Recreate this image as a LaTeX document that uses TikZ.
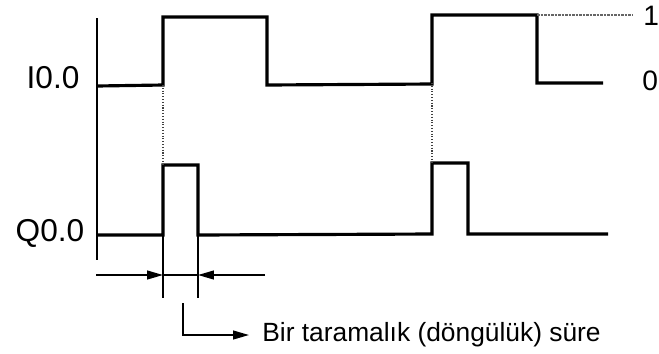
\documentclass[tikz,border=0pt]{standalone}
\usepackage{fontspec}
\setmainfont{Liberation Sans}
\usetikzlibrary{arrows.meta}
\begin{document}
\begin{tikzpicture}[x=0.02cm,y=-0.02cm,
  signal/.style={line width=1.8pt, line join=miter},
  axis/.style={line width=1.1pt},
  guide/.style={line width=0.6pt, densely dotted, black!75},
  refline/.style={line width=0.6pt, dash pattern=on 1.5pt off 0.5pt, black!60},
  tick/.style={line width=1.1pt},
  dimarrow/.style={line width=0.9pt, -{Triangle[length=9pt,width=5pt]}},
  lbl/.style={font=\fontsize{18}{18}\selectfont, inner sep=0pt},
  lvl/.style={font=\fontsize{16}{16}\selectfont, inner sep=0pt, anchor=west},
  note/.style={font=\fontsize{15}{15}\selectfont, inner sep=0pt, anchor=west}
]
\useasboundingbox (0,0) rectangle (659,353);

% time axis shared by both traces
\draw[axis] (97,18) -- (97,260);

% signal names
\node[lbl] (in) at (53,78) {I0.0};
\node[lbl] (out) at (50,233) {Q0.0};

% input I0.0
\coordinate (i1) at (163,85);
\coordinate (i2) at (432,83);
\draw[signal] (97,86) -- (i1) -- (163,17) -- (267,17) -- (267,85)
  -- (432,84) -- (432,15) -- (537,15) -- (537,83) -- (603,83);

% level labels
\draw[refline] (537,15) -- (633,15);
\node[lvl] (one) at (643,16) {1};
\node[lvl] (zero) at (642,81) {0};

% output Q0.0, one scan cycle pulses
\coordinate (q1) at (163,165);
\coordinate (q2) at (432,163);
\draw[signal] (97,235) -- (163,235) -- (q1) -- (198,165) -- (198,235)
  -- (432,234) -- (q2) -- (468,163) -- (468,234) -- (608,234);

% edge projections
\draw[guide] (i1) -- (q1);
\draw[guide] (i2) -- (q2);

% pulse width dimension
\coordinate (e1) at (163,298);
\coordinate (e2) at (198,298);
\draw[tick] (163,235) -- (e1);
\draw[tick] (198,235) -- (e2);
\coordinate (a1) at (96,275);
\coordinate (a2) at (265,275);
\draw[dimarrow] (a1) -- (163,275);
\draw[dimarrow] (a2) -- (198,275);
\draw[line width=0.8pt] (163,275) -- (198,275);

% annotation
\node[note] (lbl) at (262,335) {Bir taramalık (döngülük) süre};
\coordinate (b0) at (183,303);
\coordinate (b1) at (249,335);
\draw[dimarrow] (b0) |- (b1);
\end{tikzpicture}
\end{document}
